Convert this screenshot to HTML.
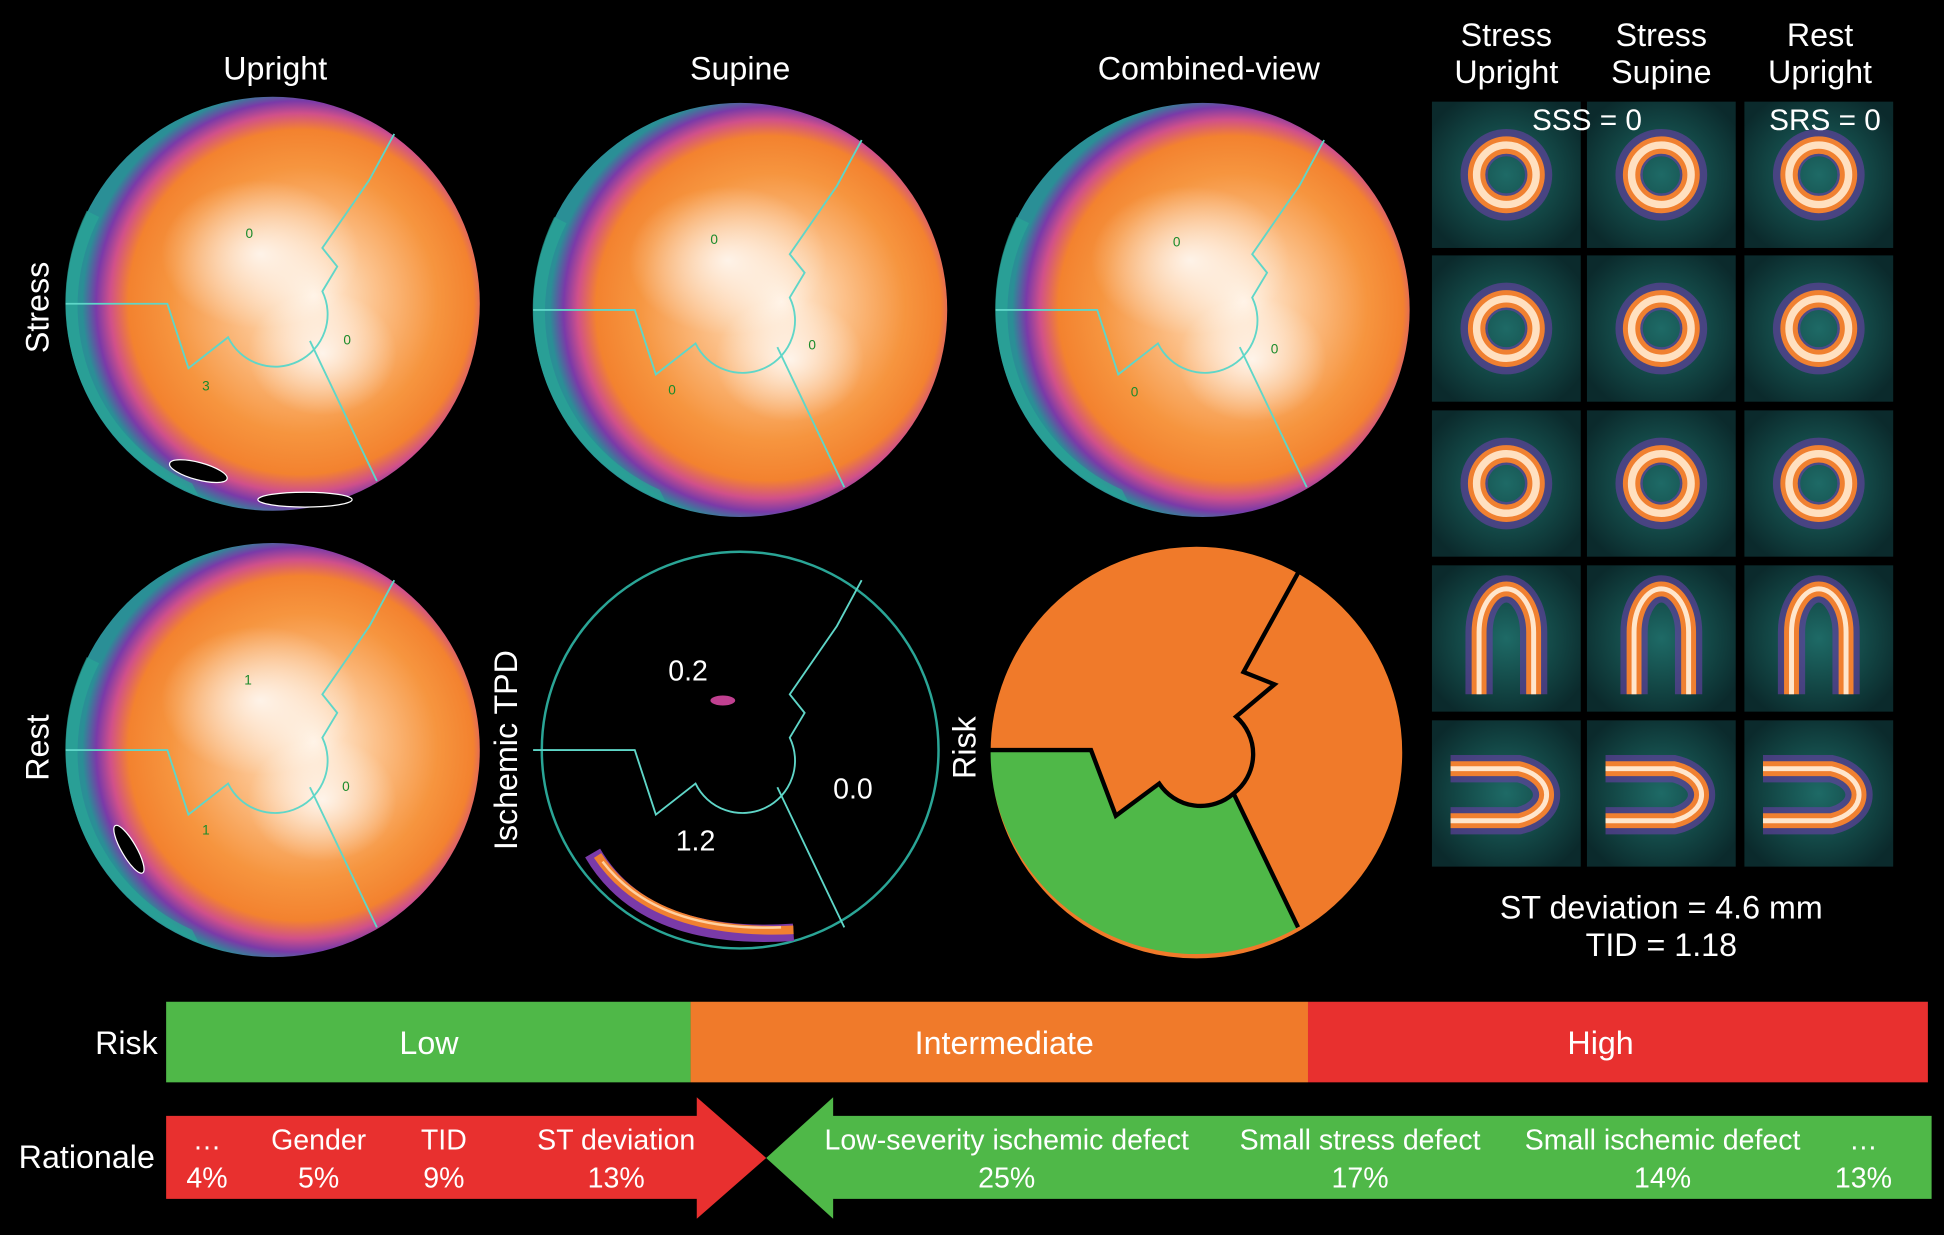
<!DOCTYPE html>
<html><head><meta charset="utf-8"><style>
html,body{margin:0;padding:0;background:#000;width:1944px;height:1235px;overflow:hidden}
#s{position:absolute;left:0;top:0;width:1568px;height:996px;transform:scale(1.2398);transform-origin:0 0;font-family:"Liberation Sans",sans-serif;color:#fff}
.t{position:absolute;font-size:26px;white-space:nowrap;transform:translateX(-50%);line-height:1}
.r{position:absolute;font-size:26px;white-space:nowrap;transform:translate(-50%,-50%) rotate(-90deg);line-height:1}
.w{position:absolute;font-size:23px;white-space:nowrap;transform:translateX(-50%);line-height:1;color:#fff}
</style></head><body><div id="s">
<svg width="1568" height="996" style="position:absolute;left:0;top:0">
<defs>
<radialGradient id="pm" cx="56%" cy="50%" r="52%" fx="60%" fy="48%">
<stop offset="0" stop-color="#fff1e2"/><stop offset="0.3" stop-color="#fcc38e"/><stop offset="0.62" stop-color="#f6953f"/><stop offset="0.8" stop-color="#f3822f"/><stop offset="0.88" stop-color="#d0508a"/><stop offset="0.94" stop-color="#7a3aa8"/><stop offset="1" stop-color="#2a8f96"/></radialGradient>
<radialGradient id="wb"><stop offset="0" stop-color="#fff" stop-opacity="0.8"/><stop offset="1" stop-color="#fff" stop-opacity="0"/></radialGradient>
<radialGradient id="tile" cx="50%" cy="50%" r="60%"><stop offset="0" stop-color="#1e6a66"/><stop offset="0.6" stop-color="#124443"/><stop offset="1" stop-color="#0b2a2c"/></radialGradient>
<g id="seg" fill="none" stroke="#5fd6c8" stroke-width="1.5">
<path d="M-167,0 L-85,0 L-68,52 L-36,27 A42 42 0 0 0 40,-10 L52,-30 L40,-45 L78,-100 L98,-137"/>
<path d="M30,30 L72,118 L84,143"/>
</g>
<g id="pmap"><circle r="167" fill="url(#pm)"/><ellipse cx="-10" cy="-40" rx="80" ry="60" fill="url(#wb)"/><ellipse cx="40" cy="40" rx="60" ry="50" fill="url(#wb)"/><path d="M-150,-75 A167 167 0 0 0 -60,155 L-65,145 A157 157 0 0 1 -140,-70Z" fill="#2aa596" opacity="0.7"/><use href="#seg"/></g>
<g id="ring"><rect x="-60" y="-59" width="120" height="118" fill="url(#tile)"/><circle r="26" fill="none" stroke="#6a40a8" stroke-width="22" opacity="0.6"/><circle r="24" fill="none" stroke="#f08030" stroke-width="14"/><circle r="24" fill="none" stroke="#ffe0c0" stroke-width="6"/></g>
<g id="hu"><rect x="-60" y="-59" width="120" height="118" fill="url(#tile)"/><path d="M-22,45 L-22,-5 A22 35 0 0 1 22,-5 L22,45" fill="none" stroke="#6a40a8" stroke-width="22" opacity="0.6"/><path d="M-22,45 L-22,-5 A22 35 0 0 1 22,-5 L22,45" fill="none" stroke="#f08030" stroke-width="12"/><path d="M-22,45 L-22,-5 A22 35 0 0 1 22,-5 L22,45" fill="none" stroke="#ffe6cc" stroke-width="4"/></g>
<g id="hs"><rect x="-60" y="-59" width="120" height="118" fill="url(#tile)"/><path d="M-45,-20 L10,-20 A32 22 0 0 1 10,22 L-45,22" fill="none" stroke="#6a40a8" stroke-width="22" opacity="0.6"/><path d="M-45,-20 L10,-20 A32 22 0 0 1 10,22 L-45,22" fill="none" stroke="#f08030" stroke-width="12"/><path d="M-45,-20 L10,-20 A32 22 0 0 1 10,22 L-45,22" fill="none" stroke="#ffe6cc" stroke-width="4"/></g>
</defs>
<use href="#pmap" x="220" y="245"/>
<use href="#pmap" x="597" y="250"/>
<use href="#pmap" x="970" y="250"/>
<use href="#pmap" x="220" y="605"/>
<ellipse cx="160" cy="380" rx="24" ry="7" fill="#000" stroke="#fff" stroke-width="1" transform="rotate(15 160 380)"/>
<ellipse cx="246" cy="403" rx="38" ry="6" fill="#000" stroke="#fff" stroke-width="1"/>
<ellipse cx="104" cy="685" rx="6" ry="22" fill="#000" stroke="#fff" stroke-width="1" transform="rotate(-30 104 685)"/>
<g fill="#1a8a2a" font-size="11" font-family="Liberation Sans"><text x="198" y="192">0</text><text x="277" y="278">0</text><text x="163" y="315">3</text><text x="573" y="197">0</text><text x="652" y="282">0</text><text x="539" y="318">0</text><text x="946" y="199">0</text><text x="1025" y="285">0</text><text x="912" y="320">0</text><text x="197" y="552">1</text><text x="276" y="638">0</text><text x="163" y="673">1</text></g>
<circle cx="597" cy="605" r="160" fill="#000" stroke="#2aa596" stroke-width="2"/>
<use href="#seg" x="597" y="605" style="stroke:#2aa596"/>
<path d="M478,688 Q520,760 640,752" fill="none" stroke="#7a3aa8" stroke-width="14"/>
<path d="M482,690 Q525,755 640,750" fill="none" stroke="#f08030" stroke-width="7"/>
<path d="M486,695 Q530,752 630,748" fill="none" stroke="#ffd0a0" stroke-width="2"/>
<ellipse cx="583" cy="565" rx="10" ry="4" fill="#c04090"/>
<circle cx="965" cy="607" r="167" fill="#f07a2a"/>
<path d="M798,605 L880,605 L900,658 L935,632 A40 40 0 0 0 995,640 L1047,748 A167 167 0 0 1 798,605Z" fill="#4fb848"/>
<path d="M798,605 L880,605 L900,658 L935,632 A40 40 0 0 0 995,640 L1047,748 M1047,462 L1003,542 L1028,552 L997,578 A40 40 0 0 1 995,640" fill="none" stroke="#000" stroke-width="3.5"/>
<circle cx="965" cy="607" r="167" fill="none" stroke="#000" stroke-width="2"/>
<g>
<use href="#ring" x="1215" y="141"/><use href="#ring" x="1340" y="141"/><use href="#ring" x="1467" y="141"/>
<use href="#ring" x="1215" y="265"/><use href="#ring" x="1340" y="265"/><use href="#ring" x="1467" y="265"/>
<use href="#ring" x="1215" y="390"/><use href="#ring" x="1340" y="390"/><use href="#ring" x="1467" y="390"/>
<use href="#hu" x="1215" y="515"/><use href="#hu" x="1340" y="515"/><use href="#hu" x="1467" y="515"/>
<use href="#hs" x="1215" y="640"/><use href="#hs" x="1340" y="640"/><use href="#hs" x="1467" y="640"/>
</g>
<rect x="134" y="808" width="423" height="65" fill="#4fb848"/>
<rect x="557" y="808" width="498" height="65" fill="#f07a2a"/>
<rect x="1055" y="808" width="500" height="65" fill="#e8302f"/>
<path d="M134,900 L562,900 L562,885 L618,934 L562,983 L562,967 L134,967Z" fill="#e8302f"/>
<path d="M1558,900 L672,900 L672,885 L618,934 L672,983 L672,967 L1558,967Z" fill="#4fb848"/>
</svg>
<div class="t" style="left:222px;top:42px">Upright</div>
<div class="t" style="left:597px;top:42px">Supine</div>
<div class="t" style="left:975px;top:42px">Combined-view</div>
<div class="r" style="left:30px;top:248px">Stress</div>
<div class="r" style="left:30px;top:603px">Rest</div>
<div class="r" style="left:408px;top:605px">Ischemic TPD</div>
<div class="r" style="left:778px;top:603px">Risk</div>
<div class="t" style="left:555px;top:530px;font-size:23px">0.2</div>
<div class="t" style="left:688px;top:625px;font-size:23px">0.0</div>
<div class="t" style="left:561px;top:667px;font-size:23px">1.2</div>
<div class="t" style="left:1215px;top:15px">Stress</div><div class="t" style="left:1215px;top:45px">Upright</div>
<div class="t" style="left:1340px;top:15px">Stress</div><div class="t" style="left:1340px;top:45px">Supine</div>
<div class="t" style="left:1468px;top:15px">Rest</div><div class="t" style="left:1468px;top:45px">Upright</div>
<div class="t" style="left:1280px;top:86px;font-size:24px">SSS = 0</div>
<div class="t" style="left:1472px;top:86px;font-size:24px">SRS = 0</div>
<div class="t" style="left:1340px;top:719px">ST deviation = 4.6 mm</div>
<div class="t" style="left:1340px;top:749px">TID = 1.18</div>
<div class="t" style="left:102px;top:828px">Risk</div>
<div class="t" style="left:346px;top:828px">Low</div>
<div class="t" style="left:810px;top:828px">Intermediate</div>
<div class="t" style="left:1291px;top:828px">High</div>
<div class="t" style="left:70px;top:920px">Rationale</div>
<div class="w" style="left:167px;top:908px">…</div><div class="w" style="left:167px;top:939px">4%</div>
<div class="w" style="left:257px;top:908px">Gender</div><div class="w" style="left:257px;top:939px">5%</div>
<div class="w" style="left:358px;top:908px">TID</div><div class="w" style="left:358px;top:939px">9%</div>
<div class="w" style="left:497px;top:908px">ST deviation</div><div class="w" style="left:497px;top:939px">13%</div>
<div class="w" style="left:812px;top:908px">Low-severity ischemic defect</div><div class="w" style="left:812px;top:939px">25%</div>
<div class="w" style="left:1097px;top:908px">Small stress defect</div><div class="w" style="left:1097px;top:939px">17%</div>
<div class="w" style="left:1341px;top:908px">Small ischemic defect</div><div class="w" style="left:1341px;top:939px">14%</div>
<div class="w" style="left:1503px;top:908px">…</div><div class="w" style="left:1503px;top:939px">13%</div>
</div></body></html>
